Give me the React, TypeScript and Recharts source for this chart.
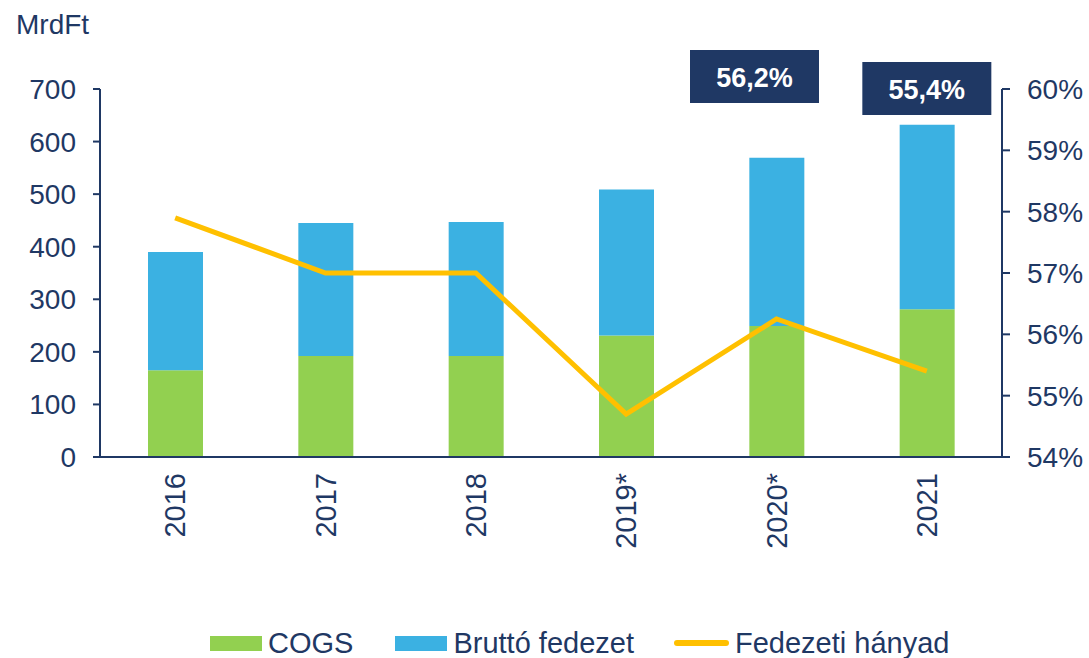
import React from "react";
import { ComposedChart, Bar, Line, XAxis, YAxis, Legend, LabelList } from "recharts";

const years = ["2016", "2017", "2018", "2019*", "2020*", "2021"];
const cogs = [165, 192, 192, 231, 249, 281];
const brutto = [225, 253, 255, 278, 320, 351];
const hanyad = [57.9, 57.0, 57.0, 54.7, 56.25, 55.4];
const calloutText = ["", "", "", "", "56,2%", "55,4%"];
const leftTicks = [0, 100, 200, 300, 400, 500, 600, 700];
const rightTicks = [54, 55, 56, 57, 58, 59, 60];

const data = years.map((y, i) => ({
  year: y,
  cogs: cogs[i],
  brutto: brutto[i],
  hanyad: hanyad[i],
  callout: calloutText[i],
}));

const NAVY = "#1F3864";
const GREEN = "#92D050";
const BLUE = "#3BB1E2";
const GOLD = "#FFC000";
const FONT = "'Liberation Sans', Arial, sans-serif";

// box placement relative to the point (styling only)
const calloutBox: Record<number, { dx: number; top: number }> = {
  4: { dx: -22, top: 50 },
  5: { dx: 0, top: 62 },
};

const XTick = (props: any) => {
  const { x, y, payload } = props;
  return (
    <text
      transform={`translate(${x},${y + 16}) rotate(-90)`}
      textAnchor="end"
      dominantBaseline="central"
      fill={NAVY}
      fontSize={29}
      fontFamily={FONT}
    >
      {payload.value}
    </text>
  );
};

const Callout = (props: any) => {
  const { x, value, index } = props;
  if (!value) return null;
  const b = calloutBox[index];
  if (!b) return null;
  const w = 129;
  const h = 53;
  const cx = x + b.dx;
  return (
    <g>
      <rect x={cx - w / 2} y={b.top} width={w} height={h} fill={NAVY} />
      <text
        x={cx}
        y={b.top + h / 2 + 1}
        textAnchor="middle"
        dominantBaseline="central"
        fill="#fff"
        fontWeight="bold"
        fontSize={27}
        fontFamily={FONT}
      >
        {value}
      </text>
    </g>
  );
};

const LegendContent = () => {
  const item = (swatch: React.ReactNode, label: string, ml: number) => (
    <div style={{ display: "flex", alignItems: "center", marginLeft: ml }}>
      {swatch}
      <span style={{ marginLeft: 6, fontSize: 29, color: NAVY, fontFamily: FONT, lineHeight: "30px" }}>{label}</span>
    </div>
  );
  return (
    <div style={{ height: 30, display: "flex", alignItems: "center", paddingLeft: 210 }}>
      {item(<div style={{ width: 52, height: 15, background: GREEN }} />, "COGS", 0)}
      {item(<div style={{ width: 52, height: 15, background: BLUE }} />, "Bruttó fedezet", 42)}
      {item(<div style={{ width: 55, height: 6, borderRadius: 3, background: GOLD }} />, "Fedezeti hányad", 40)}
    </div>
  );
};

export default function App() {
  return (
    <div style={{ position: "absolute", left: 0, top: 0, width: 1089, height: 658, background: "#fff" }}>
      <div
        style={{
          position: "absolute",
          left: 16,
          top: 9,
          fontSize: 28,
          color: NAVY,
          fontFamily: FONT,
        }}
      >
        MrdFt
      </div>
      <ComposedChart
        width={1089}
        height={658}
        data={data}
        margin={{ top: 89, right: 0, left: 0, bottom: 0 }}
        barSize={55}
      >
        <XAxis
          dataKey="year"
          xAxisId={0}
          height={171}
          tickLine={false}
          tickSize={0}
          tickMargin={0}
          axisLine={{ stroke: NAVY, strokeWidth: 2 }}
          tick={<XTick />}
          interval={0}
        />
        <YAxis
          yAxisId="left"
          orientation="left"
          width={100}
          domain={[0, 700]}
          ticks={leftTicks}
          tickSize={7}
          tickMargin={17}
          axisLine={{ stroke: NAVY, strokeWidth: 2 }}
          tickLine={{ stroke: NAVY, strokeWidth: 2 }}
          tick={{ fill: NAVY, fontSize: 28, fontFamily: FONT }}
          interval={0}
        />
        <YAxis
          yAxisId="right"
          orientation="right"
          width={87}
          domain={[54, 60]}
          ticks={rightTicks}
          tickSize={8}
          tickMargin={17}
          axisLine={{ stroke: NAVY, strokeWidth: 2 }}
          tickLine={{ stroke: NAVY, strokeWidth: 2 }}
          tick={{ fill: NAVY, fontSize: 28, fontFamily: FONT, textAnchor: "start" }}
          tickFormatter={(v: number) => `${v}%`}
          interval={0}
        />
        <Legend verticalAlign="bottom" content={<LegendContent />} />
        <Bar dataKey="cogs" name="COGS" stackId="a" yAxisId="left" fill={GREEN} isAnimationActive={false} />
        <Bar dataKey="brutto" name="Bruttó fedezet" stackId="a" yAxisId="left" fill={BLUE} isAnimationActive={false} />
        <Line
          dataKey="hanyad"
          name="Fedezeti hányad"
          yAxisId="right"
          stroke={GOLD}
          strokeWidth={5}
          dot={false}
          type="linear"
          isAnimationActive={false}
        >
          <LabelList dataKey="callout" content={<Callout />} />
        </Line>
      </ComposedChart>
    </div>
  );
}
